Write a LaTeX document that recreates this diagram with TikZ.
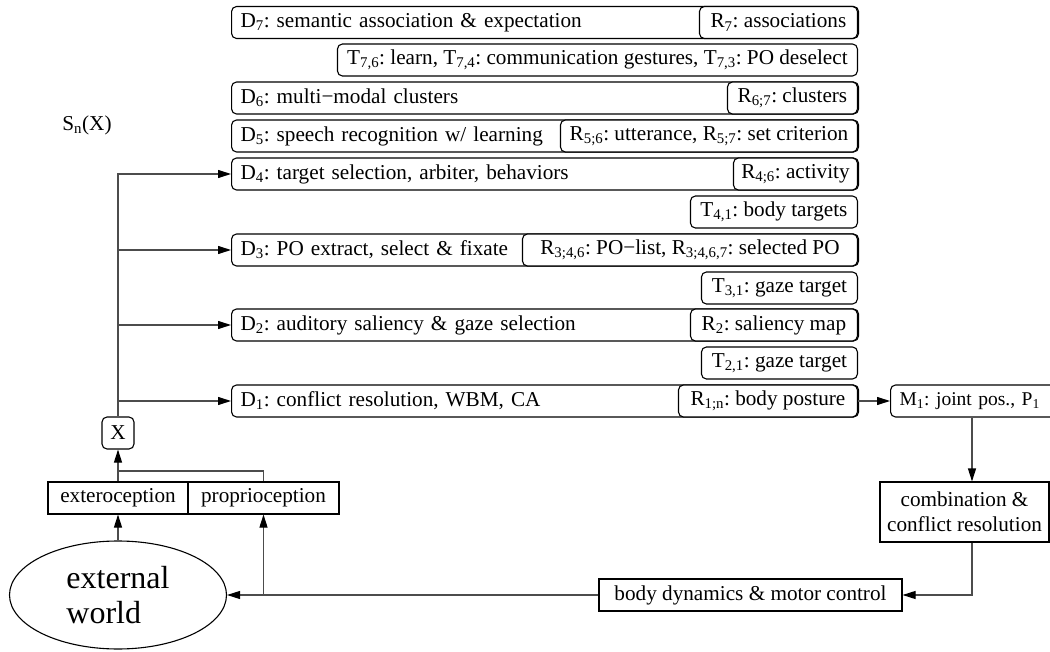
\documentclass[tikz,border=0pt]{standalone}
\usepackage{fontspec}
\setmainfont{Liberation Serif}
\usetikzlibrary{arrows.meta,shapes.geometric}
\newcommand\ssb[1]{\textsubscript{#1}}
\begin{document}
\frenchspacing
\begin{tikzpicture}[x=1pt,y=-1pt,
  every node/.style={font=\fontsize{21.2pt}{25pt}\selectfont},
  box/.style={draw, rounded corners=5pt, minimum height=32pt, inner sep=0pt, line width=1.1pt, fill=white},
  dbox/.style={box, anchor=west, text width=609pt, inner xsep=9pt, align=left},
  rbox/.style={box, anchor=east},
  sbox/.style={draw, line width=1.1pt, minimum height=32pt, inner sep=0pt, fill=white},
  conn/.style={line width=1.1pt, draw=black!70, -{Triangle[length=13pt,width=8pt,black]}},
  plain/.style={line width=1.1pt, draw=black!70}]
\useasboundingbox (0,0) rectangle (1050,652);
\clip (0,0) rectangle (1050,652);

\node[dbox] (d7) at (231,22.5) {D\ssb{7}: semantic association \& expectation};
\node[rbox, minimum width=158pt] (r7) at (858,22.5) {R\ssb{7}: associations};
\node[rbox, minimum width=520pt] (t7) at (858,60) {T\ssb{7,6}: learn, T\ssb{7,4}: communication gestures, T\ssb{7,3}: PO deselect};
\node[dbox] (d6) at (231,98) {D\ssb{6}: multi−modal clusters};
\node[rbox, minimum width=130pt] (r6) at (858,98) {R\ssb{6;7}: clusters};
\node[dbox] (d5) at (231,136) {D\ssb{5}: speech recognition w/ learning};
\node[rbox, minimum width=297pt] (r5) at (858,136) {R\ssb{5;6}: utterance, R\ssb{5;7}: set criterion};
\node[dbox] (d4) at (231,174) {D\ssb{4}: target selection, arbiter, behaviors};
\node[rbox, minimum width=124pt] (r4) at (858,174) {R\ssb{4;6}: activity};
\node[rbox, minimum width=167pt] (t4) at (858,212) {T\ssb{4,1}: body targets};
\node[dbox] (d3) at (231,250) {D\ssb{3}: PO extract, select \& fixate};
\node[rbox, minimum width=335pt] (r3) at (858,250) {R\ssb{3;4,6}: PO−list, R\ssb{3;4,6,7}: selected PO};
\node[rbox, minimum width=156pt] (t3) at (858,288) {T\ssb{3,1}: gaze target};
\node[dbox] (d2) at (231,325) {D\ssb{2}: auditory saliency \& gaze selection};
\node[rbox, minimum width=167pt] (r2) at (858,325) {R\ssb{2}: saliency map};
\node[rbox, minimum width=156pt] (t2) at (858,363) {T\ssb{2,1}: gaze target};
\node[dbox] (d1) at (231,401) {D\ssb{1}: conflict resolution, WBM, CA};
\node[rbox, minimum width=179pt] (r1) at (858,401) {R\ssb{1;n}: body posture};
\node[box, anchor=west, text width=196pt, inner xsep=9pt, align=left, font=\fontsize{19.5pt}{24pt}\selectfont] (m1) at (890,401) {M\ssb{1}: joint pos., P\ssb{1}};

\node[sbox, minimum width=169pt, minimum height=60pt, align=center] (comb) at (964.5,512) {combination \&\\conflict resolution};
\node[sbox, minimum width=303pt] (body) at (750.5,595) {body dynamics \& motor control};
\node[sbox, minimum width=140pt] (extero) at (118,498) {exteroception};
\node[sbox, minimum width=151pt] (prop) at (263.5,498) {proprioception};
\node[box, minimum width=32pt] (xbox) at (118,433) {X};
\node[draw, ellipse, line width=1.1pt, minimum width=217pt, minimum height=108pt, inner sep=0pt, align=left, font=\fontsize{32pt}{35pt}\selectfont] (world) at (118,595) {external\\world};
\node (sn) at (87,125) {S\ssb{n}(X)};

\coordinate (j) at (118,471);
\draw[conn] (xbox.north) |- (d4.west);
\draw[conn] (xbox.north |- d3.west) -- (d3.west);
\draw[conn] (xbox.north |- d2.west) -- (d2.west);
\draw[conn] (xbox.north |- d1.west) -- (d1.west);
\draw[conn] (r1.east) -- (m1.west);
\draw[conn] ([xshift=7.5pt]comb.north |- m1.south) -- ([xshift=7.5pt]comb.north);
\draw[conn] ([xshift=7.5pt]comb.south) |- (body.east);
\draw[conn] (body.west) -- (world.east);
\draw[conn] (prop.south |- body.west) -- (prop.south);
\draw[conn] (world.north) -- (extero.south);
\draw[conn] (extero.north) -- (xbox.south);
\draw[plain] (prop.north) |- (j);
\end{tikzpicture}
\end{document}
